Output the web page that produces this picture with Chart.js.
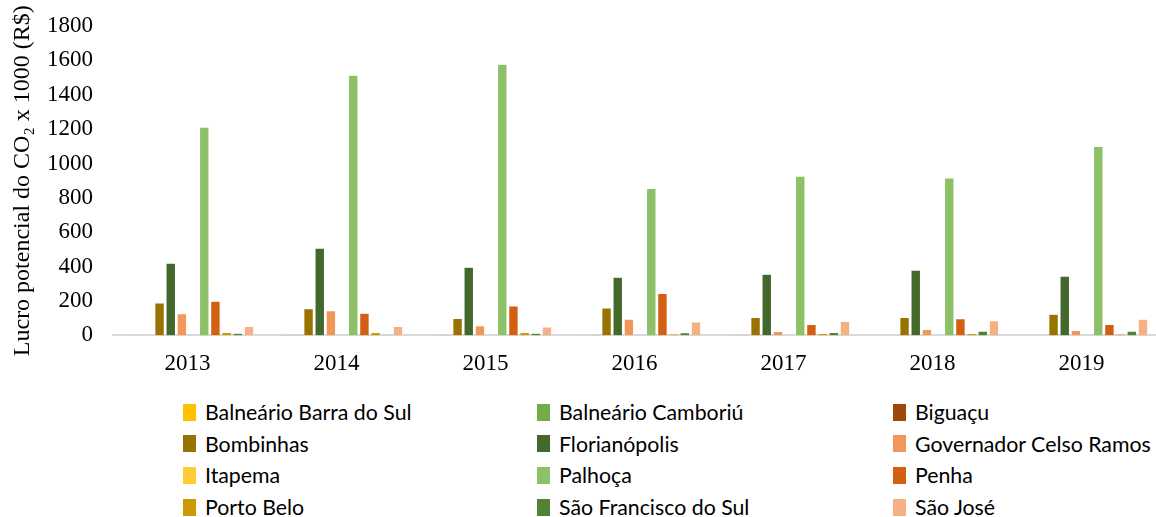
<!DOCTYPE html>
<html>
<head>
<meta charset="utf-8">
<script src="https://cdn.jsdelivr.net/npm/chart.js@4.4.1/dist/chart.umd.min.js"></script>
<style>
  html, body { margin: 0; padding: 0; background: #fff; }
  #wrap { position: relative; width: 1156px; height: 517px; overflow: hidden; }
  #c { position: absolute; left: 0; top: 0; }
  #legend { position: absolute; left: 0; top: 396px; width: 1156px; font-family: Lato, "Open Sans", sans-serif; font-size: 21.3px; color: #000; }
  .item { position: absolute; height: 32px; display: flex; align-items: center; white-space: nowrap; }
  .sw { width: 13px; height: 17px; margin-right: 9px; flex: none; }
</style>
</head>
<body>
<div id="wrap">
  <canvas id="c" width="1156" height="393"></canvas>
  <div id="legend"></div>
</div>
<script>
const years = ["2013", "2014", "2015", "2016", "2017", "2018", "2019"];

const municipios = [
  "Balneário Barra do Sul", "Balneário Camboriú", "Biguaçu",
  "Bombinhas", "Florianópolis", "Governador Celso Ramos",
  "Itapema", "Palhoça", "Penha",
  "Porto Belo", "São Francisco do Sul", "São José"
];

const barraDoSul      = [0, 0, 0, 0, 0, 0, 0];
const camboriu        = [3, 4, 2, 2, 2, 0, 0];
const biguacu         = [0, 2, 2, 3, 2, 0, 0];
const bombinhas       = [189, 156, 99, 160, 105, 105, 123];
const florianopolis   = [421, 508, 397, 339, 356, 380, 345];
const celsoRamos      = [127, 144, 57, 95, 23, 35, 29];
const itapema         = [0, 0, 0, 0, 0, 0, 0];
const palhoca         = [1212, 1514, 1578, 855, 927, 916, 1099];
const penha           = [199, 129, 171, 245, 64, 97, 64];
const portoBelo       = [18, 18, 18, 8, 12, 12, 8];
const saoFrancisco    = [13, 3, 13, 16, 18, 25, 25];
const saoJose         = [53, 53, 49, 78, 82, 86, 94];

const yTicks = [0, 200, 400, 600, 800, 1000, 1200, 1400, 1600, 1800];

const seriesValues = [barraDoSul, camboriu, biguacu, bombinhas, florianopolis, celsoRamos,
                      itapema, palhoca, penha, portoBelo, saoFrancisco, saoJose];

const colors = ["#FFC000", "#70AD47", "#9E480E", "#997300", "#43682B", "#F1975A",
                "#FFCD33", "#8CC168", "#D26012", "#CC9A06", "#548235", "#F4B183"];

const datasets = municipios.map((name, i) => ({
  label: name,
  data: seriesValues[i],
  backgroundColor: colors[i],
  borderColor: "rgba(255,255,255,0.8)",
  borderWidth: 0.6,
  categoryPercentage: 0.9,
  barPercentage: 0.86
}));

const serif = "'Liberation Serif', 'Times New Roman', serif";

new Chart(document.getElementById("c"), {
  type: "bar",
  data: { labels: years, datasets },
  options: {
    responsive: false,
    animation: false,
    layout: { padding: { left: 8, right: 0, top: 0, bottom: 0 } },
    plugins: { legend: { display: false }, tooltip: { enabled: false } },
    scales: {
      x: {
        grid: { display: false, drawTicks: false },
        border: { display: true, color: "#d9d9d9", width: 2 },
        ticks: { color: "#000", font: { family: serif, size: 23 }, padding: 15 }
      },
      y: {
        min: 0, max: 1800,
        afterBuildTicks: (s) => { s.ticks = yTicks.map(v => ({ value: v })); },
        afterFit: (s) => { s.width = 105; s.paddingTop = 26; s.paddingBottom = 14; },
        grid: { display: false, drawTicks: false },
        border: { display: false },
        ticks: { color: "#000", font: { family: serif, size: 23 }, padding: 20,
                 callback: (v) => String(v) },
        title: {
          display: true,
          text: "Lucro potencial do CO₂ x 1000 (R$)",
          color: "#000",
          font: { family: serif, size: 24 },
          padding: { top: 0, bottom: 4 }
        }
      }
    }
  }
});

// HTML legend in a 3-column grid (row-major order)
const colX = [183, 537, 893];
const rowH = 31.7;
const legend = document.getElementById("legend");
municipios.forEach((name, i) => {
  const col = i % 3, row = Math.floor(i / 3);
  const it = document.createElement("div");
  it.className = "item";
  it.style.left = colX[col] + "px";
  it.style.top = (row * rowH) + "px";
  const sw = document.createElement("span");
  sw.className = "sw";
  sw.style.background = colors[i];
  const tx = document.createElement("span");
  tx.textContent = name;
  it.appendChild(sw); it.appendChild(tx);
  legend.appendChild(it);
});
</script>
</body>
</html>
